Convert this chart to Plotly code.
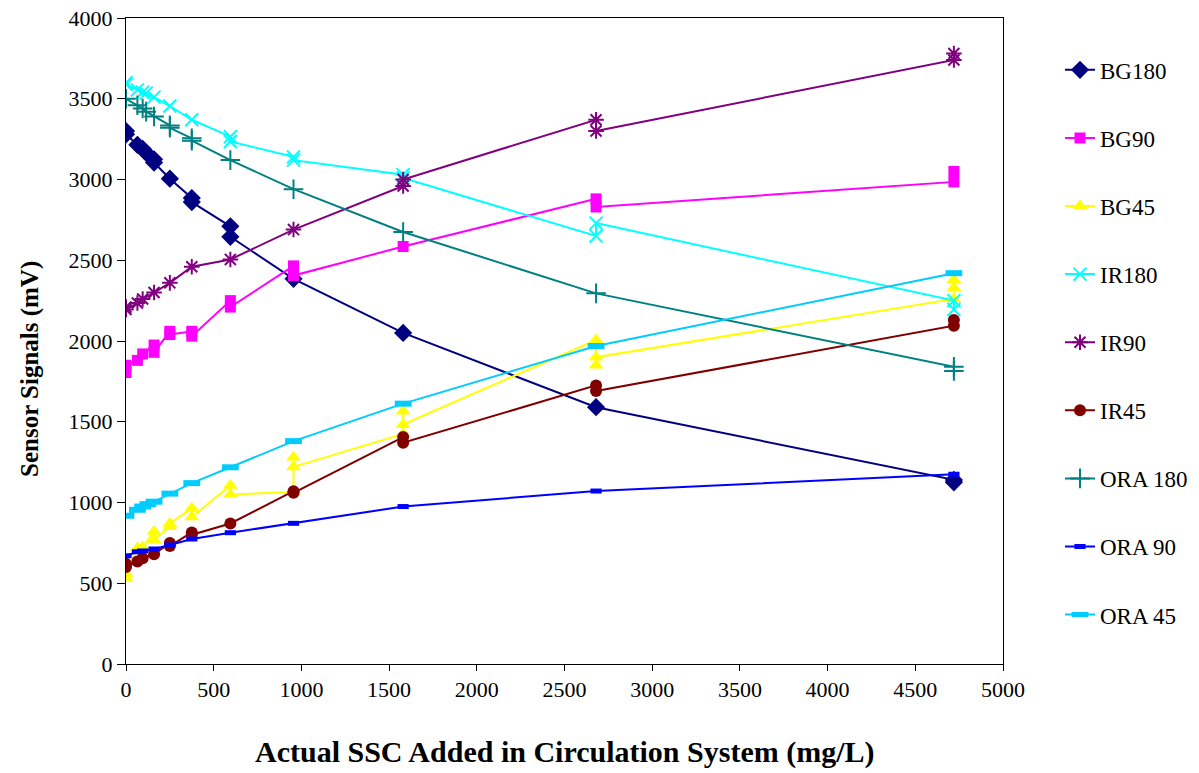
import plotly.graph_objects as go

# ---- data (replicate readings at each SSC level, in plotting order) ----
bg180_x = [0, 0, 65, 95, 115, 160, 160, 250, 375, 375, 595, 595, 955, 1580, 2680, 4720, 4720]
bg180_y = [3300, 3280, 3215, 3190, 3165, 3125, 3105, 3005, 2885, 2860, 2710, 2645, 2385, 2050, 1590, 1140, 1125]

bg90_x = [0, 0, 65, 95, 160, 160, 250, 250, 375, 375, 595, 595, 955, 955, 1580, 2680, 2680, 4720, 4720]
bg90_y = [1805, 1850, 1880, 1920, 1975, 1930, 2060, 2040, 2060, 2030, 2250, 2210, 2465, 2405, 2585, 2880, 2830, 2985, 3050]

bg45_x = [0, 0, 65, 95, 160, 160, 250, 250, 375, 375, 595, 595, 955, 955, 955, 1580, 1580, 1580, 2680, 2680, 2680, 4720, 4720, 4720]
bg45_y = [560, 530, 718, 724, 820, 770, 850, 870, 965, 910, 1105, 1050, 1065, 1280, 1220, 1425, 1565, 1483, 2006, 1850, 1900, 2260, 2380, 2330]

ir180_x = [0, 0, 65, 95, 115, 160, 250, 375, 595, 595, 955, 955, 1580, 1580, 2680, 2680, 4720, 4720]
ir180_y = [3600, 3590, 3555, 3540, 3535, 3510, 3455, 3370, 3265, 3235, 3140, 3120, 3030, 3010, 2650, 2730, 2250, 2195]

ir90_x = [0, 0, 65, 95, 160, 250, 375, 595, 955, 1580, 1580, 2680, 2680, 4720, 4720]
ir90_y = [2210, 2195, 2235, 2260, 2300, 2360, 2460, 2505, 2690, 2960, 3000, 3370, 3300, 3740, 3780]

ir45_x = [0, 0, 65, 95, 160, 250, 250, 375, 375, 595, 955, 955, 1580, 1580, 2680, 2680, 4720, 4720]
ir45_y = [620, 600, 635, 655, 680, 750, 730, 815, 800, 870, 1070, 1060, 1405, 1370, 1725, 1690, 2095, 2130]

ora180_x = [0, 65, 95, 115, 160, 250, 250, 375, 375, 595, 955, 1580, 2680, 4720, 4720]
ora180_y = [3500, 3460, 3440, 3420, 3390, 3335, 3320, 3255, 3240, 3120, 2940, 2675, 2295, 1840, 1815]

ora90_x = [0, 65, 95, 160, 250, 375, 595, 955, 1580, 2680, 4720]
ora90_y = [670, 695, 700, 712, 737, 774, 813, 871, 975, 1071, 1175]

ora45_x = [0, 65, 95, 125, 160, 250, 375, 595, 955, 1580, 2680, 4720]
ora45_y = [918, 955, 975, 990, 1005, 1055, 1120, 1218, 1380, 1612, 1969, 2420]

series_names = ["BG180", "BG90", "BG45", "IR180", "IR90", "IR45", "ORA 180", "ORA 90", "ORA 45"]
x_ticks = [0, 500, 1000, 1500, 2000, 2500, 3000, 3500, 4000, 4500, 5000]
y_ticks = [0, 500, 1000, 1500, 2000, 2500, 3000, 3500, 4000]

# ---- styles ----
styles = [
    dict(color="#000080", symbol="diamond", size=14, lw=0),
    dict(color="#FF00FF", symbol="square", size=11, lw=0),
    dict(color="#FFFF00", symbol="triangle-up", size=13, lw=0),
    dict(color="#00FFFF", symbol="x-thin-open", size=13, lw=2),
    dict(color="#800080", symbol="asterisk-open", size=13, lw=2),
    dict(color="#800000", symbol="circle", size=12, lw=0),
    dict(color="#008080", symbol="cross-thin-open", size=14, lw=2),
    dict(color="#0000FF", symbol="line-ew-open", size=8, lw=5),
    dict(color="#00CCFF", symbol="line-ew-open", size=12, lw=6),
]
data = [(bg180_x, bg180_y), (bg90_x, bg90_y), (bg45_x, bg45_y), (ir180_x, ir180_y),
        (ir90_x, ir90_y), (ir45_x, ir45_y), (ora180_x, ora180_y), (ora90_x, ora90_y),
        (ora45_x, ora45_y)]

fig = go.Figure()
for name, (xs, ys), st in zip(series_names, data, styles):
    fig.add_trace(go.Scatter(
        x=xs, y=ys, name=name, mode="lines+markers", legendgroup=name,
        line=dict(color=st["color"], width=2),
        marker=dict(symbol=st["symbol"], size=st["size"], color=st["color"],
                    line=dict(color=st["color"], width=st["lw"])),
    ))

font_family = "Liberation Serif"
fig.update_layout(
    width=1199, height=773,
    margin=dict(l=126, r=196, t=18, b=109, autoexpand=False),
    paper_bgcolor="white", plot_bgcolor="white",
    font=dict(family=font_family, size=22, color="black"),
    showlegend=True,
    legend=dict(x=1.065, y=0.953, xanchor="left", yanchor="top",
                font=dict(family=font_family, size=23, color="black"),
                tracegroupgap=35.2, bgcolor="rgba(0,0,0,0)"),
    xaxis=dict(range=[0, 5000], tickvals=x_ticks, ticktext=[str(v) for v in x_ticks],
               showgrid=False, zeroline=False, showline=True, linecolor="black",
               linewidth=1, mirror=True, ticks="outside", ticklen=6, tickcolor="black",
               tickfont=dict(family=font_family, size=22)),
    yaxis=dict(range=[0, 4000], tickvals=y_ticks, ticktext=[str(v) for v in y_ticks],
               showgrid=False, zeroline=False, showline=True, linecolor="black",
               linewidth=1, mirror=True, ticks="outside", ticklen=8, tickcolor="black",
               tickfont=dict(family=font_family, size=22)),
    annotations=[
        dict(text="<b>Actual SSC Added in Circulation System (mg/L)</b>",
             xref="paper", yref="paper", x=0.5, y=(664 - 752) / 646,
             xanchor="center", yanchor="middle", showarrow=False,
             font=dict(family=font_family, size=30, color="black")),
        dict(text="<b>Sensor Signals (mV)</b>", textangle=-90,
             xref="paper", yref="paper", x=(30 - 126) / 877, y=(664 - 369) / 646,
             xanchor="center", yanchor="middle", showarrow=False,
             font=dict(family=font_family, size=25, color="black")),
    ],
)

fig.write_html("out.html")
